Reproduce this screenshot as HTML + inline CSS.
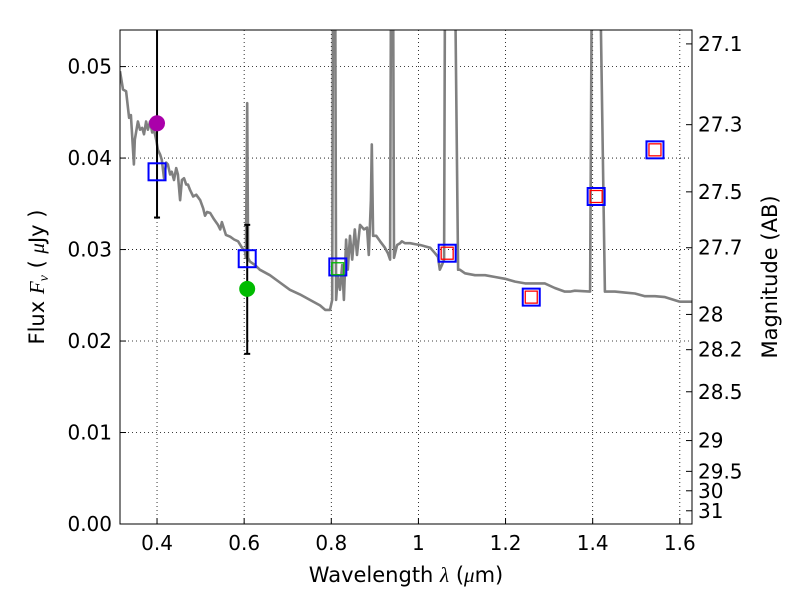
<!DOCTYPE html>
<html><head><meta charset="utf-8"><style>
html,body{margin:0;padding:0;background:#fff;}
svg{display:block;font-family:"DejaVu Sans","Liberation Sans",sans-serif;}
</style></head><body>
<svg id="chart" width="800" height="600" viewBox="0 0 800 600"></svg>
<script>
const specLam=[0.315,0.322,0.329,0.336,0.340,0.347,0.349,0.356,0.361,0.366,0.370,0.375,0.379,0.384,0.389,0.393,0.398,0.402,0.407,0.411,0.416,0.421,0.425,0.430,0.434,0.439,0.444,0.448,0.453,0.457,0.462,0.467,0.471,0.476,0.483,0.490,0.499,0.506,0.510,0.515,0.522,0.531,0.540,0.545,0.549,0.558,0.568,0.577,0.586,0.595,0.602,0.604,0.607,0.609,0.613,0.625,0.636,0.659,0.682,0.705,0.728,0.751,0.774,0.786,0.797,0.802,0.804,0.809,0.811,0.815,0.820,0.825,0.829,0.834,0.838,0.843,0.848,0.854,0.859,0.866,0.875,0.882,0.886,0.891,0.893,0.896,0.903,0.912,0.923,0.930,0.935,0.937,0.942,0.944,0.951,0.958,0.962,0.969,0.981,0.992,1.004,1.027,1.038,1.045,1.049,1.054,1.059,1.061,1.084,1.091,1.095,1.107,1.130,1.153,1.176,1.199,1.222,1.245,1.256,1.268,1.279,1.290,1.313,1.336,1.348,1.359,1.394,1.398,1.417,1.428,1.451,1.474,1.497,1.520,1.543,1.566,1.600,1.628];
const specFlux=[0.0495,0.0475,0.0473,0.0444,0.0447,0.0393,0.0420,0.0440,0.0431,0.0433,0.0426,0.0440,0.0431,0.0440,0.0428,0.0431,0.0420,0.0409,0.0404,0.0398,0.0378,0.0395,0.0393,0.0382,0.0385,0.0376,0.0389,0.0382,0.0354,0.0376,0.0378,0.0371,0.0371,0.0365,0.0358,0.0360,0.0354,0.0345,0.0337,0.0341,0.0340,0.0333,0.0327,0.0322,0.0330,0.0316,0.0314,0.0311,0.0309,0.0302,0.0298,0.0291,0.0460,0.0291,0.0287,0.0283,0.0278,0.0272,0.0264,0.0256,0.0251,0.0245,0.0239,0.0234,0.0234,0.0245,0.060,0.060,0.0245,0.0272,0.0256,0.0283,0.0245,0.0311,0.0278,0.0315,0.0289,0.0322,0.0294,0.0327,0.0322,0.0324,0.0294,0.0354,0.0415,0.0315,0.0315,0.0309,0.0302,0.0296,0.0289,0.060,0.060,0.0291,0.0305,0.0307,0.0309,0.0307,0.0307,0.0306,0.0305,0.0302,0.0296,0.0292,0.0278,0.0283,0.0289,0.060,0.060,0.0278,0.0278,0.0274,0.0272,0.0272,0.0270,0.0268,0.0265,0.0263,0.0263,0.0263,0.0263,0.0263,0.0258,0.0254,0.0254,0.0255,0.0254,0.060,0.060,0.0254,0.0254,0.0253,0.0252,0.0249,0.0249,0.0248,0.0243,0.0243];
const obsLam=[0.400,0.607,0.815,1.066,1.259,1.408,1.543];
const obsFlux=[0.0385,0.0290,0.0281,0.0296,0.0248,0.0358,0.0409];
const modLam=[0.815,1.066,1.259,1.408,1.543];
const modFlux=[0.0279,0.0296,0.0248,0.0358,0.0409];
const modColor=["#00bb00","red","red","red","red"];
const ptLam=[0.400,0.607];
const ptFlux=[0.0438,0.0257];
const ptColor=["#aa00aa","#00bb00"];
const errLo=[0.0335,0.0186];
const errHi=[0.060,0.0327];
const xTicks=[0.4,0.6,0.8,1.0,1.2,1.4,1.6];
const xTickLabels=["0.4","0.6","0.8","1","1.2","1.4","1.6"];
const yTicks=[0,0.01,0.02,0.03,0.04,0.05];
const yTickLabels=["0.00","0.01","0.02","0.03","0.04","0.05"];
const magTicks=[27.1,27.3,27.5,27.7,28,28.2,28.5,29,29.5,30,31];

const L=120,R=692,T=30,B=524;
const xmin=0.315,xmax=1.628,ymin=0,ymax=0.054;
const xs=v=>L+(v-xmin)/(xmax-xmin)*(R-L);
const ys=v=>B-(v-ymin)/(ymax-ymin)*(B-T);
const NS="http://www.w3.org/2000/svg";
const svg=document.getElementById('chart');
function mk(tag,attrs,parent){const e=document.createElementNS(NS,tag);for(const k in attrs)e.setAttribute(k,attrs[k]);(parent||svg).appendChild(e);return e;}
const defs=mk('defs',{});
const cp=mk('clipPath',{id:'clip'},defs);
mk('rect',{x:L,y:T,width:R-L,height:B-T},cp);

xTicks.forEach((t,i)=>{
 const g=mk('line',{x1:xs(t),x2:xs(t),y1:T,y2:B,stroke:'#000','stroke-width':0.8,'stroke-dasharray':'1,3'});
 
 
 const tk=mk('line',{x1:xs(t),x2:xs(t),y1:B,y2:B-6,stroke:'#000'});
 
 
 const tx=mk('text',{x:xs(t),y:B+26,'text-anchor':'middle','font-size':20});
 tx.textContent=xTickLabels[i];
 
 
});
yTicks.forEach((t,i)=>{
 const g=mk('line',{x1:L,x2:R,y1:ys(t),y2:ys(t),stroke:'#000','stroke-width':0.8,'stroke-dasharray':'1,3'});
 
 
 const tk=mk('line',{x1:L,x2:L+6,y1:ys(t),y2:ys(t),stroke:'#000'});
 
 
 const tx=mk('text',{x:L-8,y:ys(t)+7,'text-anchor':'end','font-size':20});
 tx.textContent=yTickLabels[i];
 
 
});
magTicks.forEach(m=>{
 const f=Math.pow(10,(23.9-m)/2.5);
 const y=ys(f);
 const tk=mk('line',{x1:R,x2:R-6,y1:y,y2:y,stroke:'#000'});
 
 
 const tx=mk('text',{x:R+6,y:y+7,'font-size':20});
 tx.textContent=String(m);
 
 
});

const plot=mk('g',{'clip-path':'url(#clip)'});


const d=specLam.map((l,i)=>(i?'L':'M')+xs(l).toFixed(1)+','+ys(specFlux[i]).toFixed(1)).join(' ');
const sp=mk('path',{d:d,fill:'none',stroke:'#808080','stroke-width':2.6,'stroke-linejoin':'round'},plot);



ptLam.forEach((l,i)=>{
 const x=xs(l);
 const e=mk('line',{x1:x,x2:x,y1:ys(errLo[i]),y2:ys(errHi[i]),stroke:'#000','stroke-width':2},plot);
 
 
 [errLo[i],errHi[i]].forEach(v=>{
  const c=mk('line',{x1:x-3,x2:x+3,y1:ys(v),y2:ys(v),stroke:'#000','stroke-width':2},plot);
  
  
 });
 const p=mk('circle',{cx:x,cy:ys(ptFlux[i]),r:8,fill:ptColor[i]},plot);
 
 
});
obsLam.forEach((l,i)=>{
 const s=mk('rect',{x:xs(l)-8.5,y:ys(obsFlux[i])-8.5,width:17,height:17,fill:'none',stroke:'#0000ff','stroke-width':2},plot);
 
 
});
modLam.forEach((l,i)=>{
 const s=mk('rect',{x:xs(l)-6,y:ys(modFlux[i])-6,width:12,height:12,fill:'none',stroke:modColor[i],'stroke-width':1.3},plot);
 
 
});

const fr=mk('rect',{x:L,y:T,width:R-L,height:B-T,fill:'none',stroke:'#000','stroke-width':1});



const xl=mk('text',{x:406,y:582,'text-anchor':'middle','font-size':21});
xl.innerHTML='Wavelength  <tspan font-style="italic" font-family="Liberation Serif,serif">λ</tspan> (<tspan font-style="italic" font-family="Liberation Serif,serif">μ</tspan>m)';


const yl=mk('text',{x:0,y:0,'text-anchor':'middle','font-size':21,transform:'translate(44,277) rotate(-90)'});
yl.innerHTML='Flux  <tspan font-style="italic" font-family="Liberation Serif,serif">F<tspan font-size="14" dy="4">ν</tspan></tspan><tspan dy="-4">  ( </tspan><tspan font-style="italic" font-family="Liberation Serif,serif">μ</tspan>Jy )';


const rl=mk('text',{x:0,y:0,'text-anchor':'middle','font-size':21,transform:'translate(777,277) rotate(-90)'});
rl.textContent='Magnitude (AB)';


</script>
</body></html>
